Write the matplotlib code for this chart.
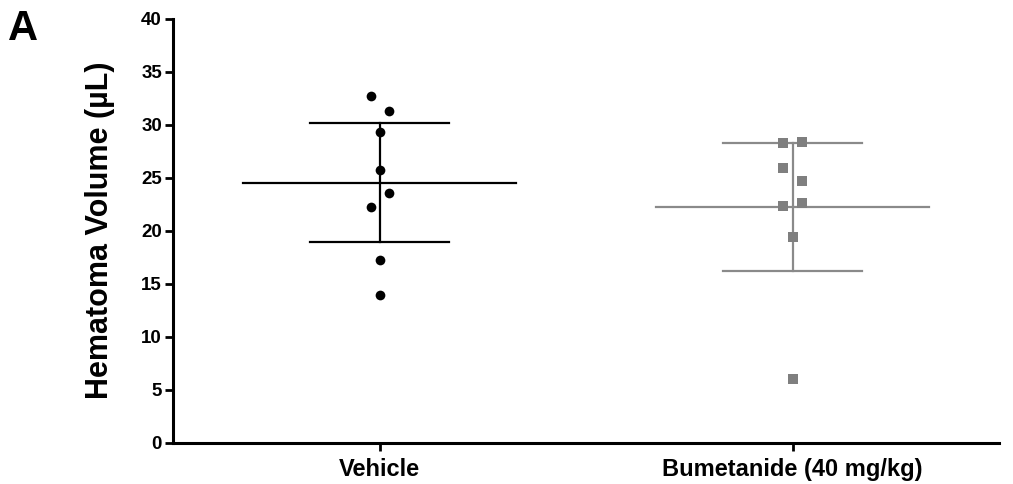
import matplotlib
matplotlib.use("Agg")
import matplotlib.pyplot as plt
import numpy as np

plt.rcParams['font.family'] = ['Liberation Sans', 'DejaVu Sans']

categories = ["Vehicle", "Bumetanide (40 mg/kg)"]
vehicle_values = [32.74, 31.32, 29.28, 25.72, 23.58, 22.21, 17.21, 13.91]
vehicle_offsets = [-0.020, 0.024, 0.0, 0.0, 0.024, -0.020, 0.0, 0.0]
bumetanide_values = [28.25, 28.37, 25.92, 24.72, 22.33, 22.64, 19.43, 6.04]
bumetanide_offsets = [-0.023, 0.023, -0.023, 0.023, -0.023, 0.023, 0.0, 0.0]
group_means = [24.5, 22.21]
group_upper = [30.13, 28.25]
group_lower = [18.93, 16.17]
y_ticks = [0, 5, 10, 15, 20, 25, 30, 35, 40]

fig = plt.figure(figsize=(10.13, 4.84), dpi=100)
ax = fig.add_axes([0.1708, 0.0853, 0.8154, 0.8761])

colors = ["black", "#7f7f7f"]
line_colors = ["black", "#8a8a8a"]
markers = ["o", "s"]
vals = [vehicle_values, bumetanide_values]
offs = [vehicle_offsets, bumetanide_offsets]

mean_hw = 0.33
cap_hw = 0.168
for i in range(2):
    lc = line_colors[i]
    ax.plot([i - mean_hw, i + mean_hw], [group_means[i]] * 2, color=lc, lw=1.6, zorder=2)
    ax.plot([i - cap_hw, i + cap_hw], [group_upper[i]] * 2, color=lc, lw=1.6, zorder=2)
    ax.plot([i - cap_hw, i + cap_hw], [group_lower[i]] * 2, color=lc, lw=1.6, zorder=2)
    ax.plot([i, i], [group_lower[i], group_upper[i]], color=lc, lw=1.6, zorder=2)
    xs = np.array(offs[i]) + i
    ax.plot(xs, vals[i], linestyle='none', marker=markers[i], color=colors[i],
            markersize=7.0, markeredgewidth=0, zorder=3)

ax.set_xlim(-0.5, 1.5)
ax.set_ylim(0, 40)
ax.set_yticks(y_ticks)
ax.set_yticklabels([str(t) for t in y_ticks], fontsize=13.5, fontweight='bold')
ax.set_xticks([0, 1])
ax.set_xticklabels(categories, fontsize=17, fontweight='bold')
ax.spines['top'].set_visible(False)
ax.spines['right'].set_visible(False)
for s in ['left', 'bottom']:
    ax.spines[s].set_linewidth(2.2)
ax.tick_params(axis='both', length=6, width=2.0, direction='out')
ax.tick_params(axis='y', pad=2)
ax.tick_params(axis='x', pad=5)

ax.set_ylabel("Hematoma Volume (µL)", fontsize=22, fontweight='bold')
ax.yaxis.set_label_coords(-0.070, 0.5)

fig.text(0.008, 0.917, "A", fontsize=30, fontweight='bold', va='baseline')

fig.savefig("out.png", dpi=100)
